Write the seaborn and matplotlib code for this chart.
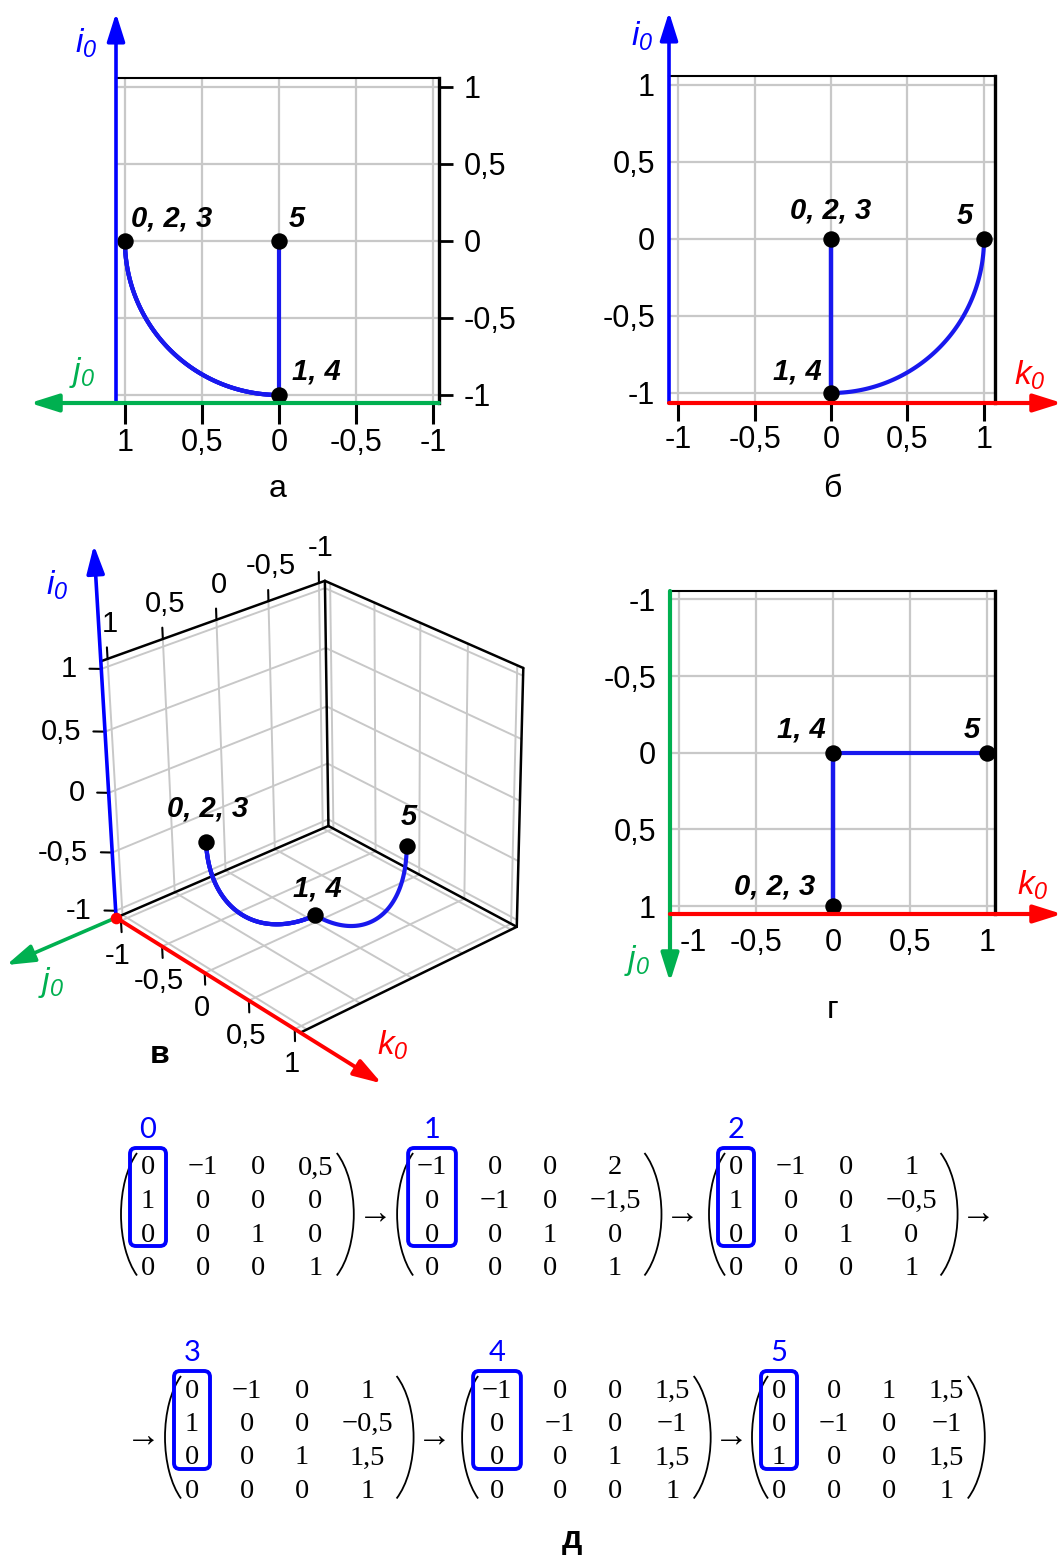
import numpy as np
import pandas as pd
import matplotlib
matplotlib.use("Agg")
import matplotlib.pyplot as plt
import seaborn as sns
from matplotlib.patches import Arc, FancyBboxPatch
from mpl_toolkits.mplot3d import proj3d

# ---------------------------------------------------------------- data
# Homogeneous transforms of the tool frame after each step (rows i, j, k, 1)
step_names = ["0", "1", "2", "3", "4", "5"]
matrix_0 = [[0, -1, 0, 0.5], [1, 0, 0, 0], [0, 0, 1, 0], [0, 0, 0, 1]]
matrix_1 = [[-1, 0, 0, 2], [0, -1, 0, -1.5], [0, 0, 1, 0], [0, 0, 0, 1]]
matrix_2 = [[0, -1, 0, 1], [1, 0, 0, -0.5], [0, 0, 1, 0], [0, 0, 0, 1]]
matrix_3 = [[0, -1, 0, 1], [1, 0, 0, -0.5], [0, 0, 1, 1.5], [0, 0, 0, 1]]
matrix_4 = [[-1, 0, 0, 1.5], [0, -1, 0, -1], [0, 0, 1, 1.5], [0, 0, 0, 1]]
matrix_5 = [[0, 0, 1, 1.5], [0, -1, 0, -1], [1, 0, 0, 1.5], [0, 0, 0, 1]]
step_matrices = [matrix_0, matrix_1, matrix_2, matrix_3, matrix_4, matrix_5]

axis_ticks = [-1, -0.5, 0, 0.5, 1]
axis_tick_labels = ["-1", "-0,5", "0", "0,5", "1"]

# ---------------------------------------------------------------- style
sns.set_theme(style="whitegrid", rc={"text.color": "black", "xtick.color": "black",
                                     "ytick.color": "black", "axes.labelcolor": "black"})
plt.rcParams["font.family"] = ["Liberation Sans", "DejaVu Sans"]
plt.rcParams["mathtext.fontset"] = "custom"
plt.rcParams["mathtext.it"] = "Liberation Sans:italic"
plt.rcParams["mathtext.rm"] = "Liberation Sans:italic"
plt.rcParams["mathtext.default"] = "it"

BLUE = "#0000ff"
GREEN = "#00b050"
RED = "#ff0000"
PATH_BLUE = "#1818ee"
GRID = "#c8c8c8"
SERIF = ["Liberation Serif", "DejaVu Serif"]

W_PX, H_PX = 1063, 1555
fig = plt.figure(figsize=(W_PX / 100, H_PX / 100), dpi=100)
fig.patch.set_facecolor("white")


def fig_rect(l, t, r, b):
    return [l / W_PX, 1 - b / H_PX, (r - l) / W_PX, (b - t) / H_PX]


def fpx(x, y):
    return (x, H_PX - y)


def axis_arrow(ax, tail, tip, color, lw=2.6):
    ax.annotate(
        "", xy=fpx(*tip), xytext=fpx(*tail), xycoords="figure pixels",
        textcoords="figure pixels",
        arrowprops=dict(arrowstyle="-|>,head_length=0.95,head_width=0.3",
                        mutation_scale=18, color=color, lw=lw,
                        shrinkA=0, shrinkB=0), zorder=10)


def fig_label(x, y, s, color="black", size=24, **kw):
    fig.text(x / W_PX, 1 - y / H_PX, s, color=color, fontsize=size,
             ha="center", va="center", **kw)


# ---------------------------------------------------------------- path of the i0 axis
directions = [np.array(m, float)[:3, 0] for m in step_matrices]  # (i, j, k)


def rotation_arc(u, v, n=120):
    ang = np.arccos(np.clip(np.dot(u, v), -1.0, 1.0))
    if ang < 1e-9:
        return u[None, :]
    w = (v - np.cos(ang) * u) / np.sin(ang)
    t = np.linspace(0.0, ang, n)
    return np.outer(np.cos(t), u) + np.outer(np.sin(t), w)


rows = []
for s in range(len(directions) - 1):
    for p in rotation_arc(directions[s], directions[s + 1]):
        rows.append({"seg": s, "i": p[0], "j": p[1], "k": p[2]})
path = pd.DataFrame(rows)

groups = {}
for name, d in zip(step_names, directions):
    groups.setdefault(tuple(np.round(d, 6) + 0.0), []).append(name)
nodes = pd.DataFrame([{"i": key[0], "j": key[1], "k": key[2], "label": ", ".join(v)}
                      for key, v in groups.items()])


def plane(ax, xcol, ycol, offsets):
    ax.set_axisbelow(True)
    sns.lineplot(data=path, x=xcol, y=ycol, units="seg", estimator=None,
                 sort=False, color=PATH_BLUE, linewidth=3, ax=ax,
                 legend=False, zorder=3)
    sns.scatterplot(data=nodes, x=xcol, y=ycol, color="black", s=140,
                    linewidth=0, ax=ax, legend=False, zorder=4)
    for _, r in nodes.iterrows():
        dx, dy = offsets[r["label"]]
        ax.annotate(r["label"], (r[xcol], r[ycol]), xytext=(dx, dy),
                    textcoords="offset pixels", ha="center", va="center",
                    fontsize=21, fontweight="bold", fontstyle="italic",
                    color="black", zorder=6)
    ax.set_xticks(axis_ticks)
    ax.set_xticklabels(axis_tick_labels)
    ax.set_yticks(axis_ticks)
    ax.set_yticklabels(axis_tick_labels)
    ax.grid(True, color=GRID, linewidth=1.6)
    ax.set_xlabel("")
    ax.set_ylabel("")
    ax.set_facecolor("white")
    for side in ("left", "bottom"):
        ax.spines[side].set_visible(False)
    ax.spines["top"].set_color("black")
    ax.spines["top"].set_linewidth(1.5)
    ax.spines["right"].set_color("black")
    ax.spines["right"].set_linewidth(2.4)
    ax.tick_params(labelsize=22, colors="black", labelcolor="black")


# ---------------------------------------------------------------- а : j0 - i0
ax_a = fig.add_axes(fig_rect(116, 78, 439, 403))
plane(ax_a, "j", "i", {"0, 2, 3": (47, 22), "5": (18, 22), "1, 4": (37, 23)})
ax_a.set_xlim(1.058, -1.039)
ax_a.set_ylim(-1.052, 1.058)
ax_a.yaxis.tick_right()
ax_a.tick_params(axis="y", right=True, left=False, length=10, width=2,
                 direction="out", pad=8)
ax_a.tick_params(axis="x", bottom=True, length=15, width=2.2,
                 direction="out", pad=3)
axis_arrow(ax_a, (116, 403), (116, 13), BLUE)
axis_arrow(ax_a, (439, 403), (30, 403), GREEN, lw=3)
fig_label(86, 43, r"$i_0$", BLUE)
fig_label(82, 372, r"$j_0$", GREEN)
fig_label(278, 489, "а", size=23)

# ---------------------------------------------------------------- б : k0 - i0
ax_b = fig.add_axes(fig_rect(669, 76, 995, 403))
plane(ax_b, "k", "i", {"0, 2, 3": (0, 28), "5": (-19, 23), "1, 4": (-34, 21)})
ax_b.set_xlim(-1.059, 1.072)
ax_b.set_ylim(-1.065, 1.058)
ax_b.tick_params(axis="y", left=True, length=0, pad=10)
ax_b.tick_params(axis="x", bottom=True, length=13, width=2.2,
                 direction="out", pad=3)
axis_arrow(ax_b, (669, 403), (669, 12), BLUE)
axis_arrow(ax_b, (669, 403), (1062, 403), RED, lw=3)
fig_label(642, 36, r"$i_0$", BLUE)
fig_label(1030, 375, r"$k_0$", RED)
fig_label(832, 489, "б", size=23)

# ---------------------------------------------------------------- г : k0 - j0
ax_g = fig.add_axes(fig_rect(670, 591, 995, 914))
plane(ax_g, "k", "j", {"1, 4": (-32, 23), "5": (-15, 23), "0, 2, 3": (-59, 20)})
ax_g.set_xlim(-1.06, 1.05)
ax_g.set_ylim(1.051, -1.054)
ax_g.tick_params(axis="both", length=0)
ax_g.tick_params(axis="x", pad=10)
ax_g.tick_params(axis="y", pad=10)
ax_g.get_xticklabels()[0].set_horizontalalignment("left")
axis_arrow(ax_g, (670, 591), (670, 982), GREEN, lw=3)
axis_arrow(ax_g, (670, 914), (1062, 914), RED, lw=3)
fig_label(1033, 885, r"$k_0$", RED)
fig_label(637, 960, r"$j_0$", GREEN)
fig_label(833, 1010, "г", size=23)

# ---------------------------------------------------------------- в : 3D view (x=j0, y=k0, z=i0)
ax3 = fig.add_axes(fig_rect(41, 539, 571, 1069), projection="3d",
                   computed_zorder=False)
ax3.set_proj_type("persp", focal_length=0.9)
ax3.view_init(elev=28, azim=49.5, roll=1)
ax3.set_box_aspect((1, 1, 1), zoom=0.925)
L = 1.06
for setter in (ax3.set_xlim, ax3.set_ylim, ax3.set_zlim):
    try:
        setter(-L, L, view_margin=0)
    except TypeError:
        setter(-L, L)
ax3.set_axis_off()

# pane grids
for t in axis_ticks:
    kw = dict(color=GRID, lw=1.4, zorder=1)
    ax3.plot([t, t], [-L, -L], [-L, L], **kw)
    ax3.plot([-L, L], [-L, -L], [t, t], **kw)
    ax3.plot([-L, -L], [t, t], [-L, L], **kw)
    ax3.plot([-L, -L], [-L, L], [t, t], **kw)
    ax3.plot([t, t], [-L, L], [-L, -L], **kw)
    ax3.plot([-L, L], [t, t], [-L, -L], **kw)

# box edges
edges = [
    ([L, -L], [-L, -L], [L, L]),
    ([-L, -L], [-L, -L], [L, -L]),
    ([-L, -L], [-L, L], [L, L]),
    ([-L, -L], [L, L], [L, -L]),
    ([-L, L], [-L, -L], [-L, -L]),
    ([-L, -L], [-L, L], [-L, -L]),
    ([-L, L], [L, L], [-L, -L]),
]
for ex, ey, ez in edges:
    ax3.plot(ex, ey, ez, color="black", lw=1.8, zorder=2)

# ticks
for t in axis_ticks:
    ax3.plot([L, L + 0.06], [-L, -L - 0.06], [t, t], color="black", lw=1.5, zorder=2)
    ax3.plot([t, t], [-L, -L], [L, L + 0.09], color="black", lw=1.5, zorder=2)
    ax3.plot([L, L], [t, t], [-L, -L - 0.1], color="black", lw=1.5, zorder=2)

# path and nodes
for _, seg in path.groupby("seg"):
    ax3.plot(seg["j"], seg["k"], seg["i"], color=PATH_BLUE, lw=3, zorder=5)
ax3.scatter(nodes["j"], nodes["k"], nodes["i"], color="black", s=140,
            depthshade=False, linewidths=0, zorder=6)

M3 = ax3.get_proj()


def p2(x, y, z):
    xs, ys, _ = proj3d.proj_transform(np.array([x], float), np.array([y], float),
                                      np.array([z], float), M3)
    return float(xs[0]), float(ys[0])


origin = p2(L, -L, -L)
i_tip, j_tip, k_tip = (L, -L, 1.95), (2.06, -L, -L), (L, 1.9, -L)
for tip, color, lw in ((i_tip, BLUE, 2.6), (j_tip, GREEN, 2.6), (k_tip, RED, 2.8)):
    ax3.annotate("", xy=p2(*tip), xytext=origin, xycoords="data",
                 arrowprops=dict(arrowstyle="-|>,head_length=0.95,head_width=0.3",
                                 mutation_scale=18, color=color, lw=lw,
                                 shrinkA=0, shrinkB=0),
                 annotation_clip=False, zorder=8)
ax3.scatter([L], [-L], [-L], color=RED, s=70, depthshade=False, linewidths=0, zorder=9)

lab_kw = dict(textcoords="offset pixels", fontsize=21, color="black",
              annotation_clip=False, zorder=9)
for t, s in zip(axis_ticks, axis_tick_labels):
    ax3.annotate(s, p2(L, -L, t), xytext=(-24, 0), ha="right", va="center", **lab_kw)
    ax3.annotate(s, p2(t, -L, L), xytext=(2, 35), ha="center", va="center", **lab_kw)
    ax3.annotate(s, p2(L, t, -L), xytext=(-3, -35), ha="center", va="center", **lab_kw)

for (tip, s, color, off) in ((i_tip, r"$i_0$", BLUE, (-37, -40)),
                             (j_tip, r"$j_0$", GREEN, (45, -17)),
                             (k_tip, r"$k_0$", RED, (11, 38))):
    ax3.annotate(s, p2(*tip), xytext=off, textcoords="offset pixels", color=color,
                 fontsize=24, ha="center", va="center", annotation_clip=False, zorder=9)

node_off3 = {"0, 2, 3": (2, 33), "5": (2, 29), "1, 4": (2, 27)}
for _, r in nodes.iterrows():
    ax3.annotate(r["label"], p2(r["j"], r["k"], r["i"]), xytext=node_off3[r["label"]],
                 textcoords="offset pixels", ha="center", va="center", fontsize=21,
                 fontweight="bold", fontstyle="italic", color="black",
                 annotation_clip=False, zorder=9)
fig_label(160, 1055, "в", size=23, fontweight="bold")

# ---------------------------------------------------------------- д : matrices
axm = fig.add_axes(fig_rect(0, 1090, 1063, 1555))
axm.set_xlim(0, W_PX)
axm.set_ylim(H_PX, 1090)
axm.axis("off")

EM = 28.0
CHAR_W = {"\u2212": 0.564, ",": 0.25}


def text_w(s):
    return sum(CHAR_W.get(ch, 0.5) for ch in s) * EM


def fmt(v):
    s = f"{abs(v):g}".replace(".", ",")
    return "\u2212" + s if v < 0 else s


col0_x = [148, 432, 736, 192, 497, 779]
row0_y = [1165, 1165, 1165, 1388, 1388, 1388]
ROW_PITCH = 33.5
COL_GAP = 33


def paren(x_end, x_bulge, y_top, y_bot):
    h = (y_bot - y_top) / 2.0
    d = abs(x_end - x_bulge)
    eta = np.deg2rad(55)
    b = h / np.sin(eta)
    a = d / (1 - np.cos(eta))
    th = np.rad2deg(np.arctan2(b * np.sin(eta), a * np.cos(eta)))
    yc = (y_top + y_bot) / 2.0
    if x_bulge < x_end:
        arc = Arc((x_bulge + a, yc), 2 * a, 2 * b, theta1=180 - th, theta2=180 + th,
                  color="black", lw=1.3)
    else:
        arc = Arc((x_bulge - a, yc), 2 * a, 2 * b, theta1=-th, theta2=th,
                  color="black", lw=1.3)
    axm.add_patch(arc)


arrow_kw = dict(fontsize=25, family=SERIF, ha="center", va="center", color="black")
for n, (m, x0, y0) in enumerate(zip(step_matrices, col0_x, row0_y)):
    strs = [[fmt(v) for v in row] for row in m]
    widths = [max(text_w(strs[r][c]) for r in range(4)) for c in range(4)]
    xs = [x0]
    for c in range(1, 4):
        xs.append(xs[-1] + widths[c - 1] / 2 + widths[c] / 2 + COL_GAP)
    ys = [y0 + r * ROW_PITCH for r in range(4)]
    for r in range(4):
        for c in range(4):
            axm.text(xs[c], ys[r] + 9.5, strs[r][c], ha="center", va="baseline",
                     fontsize=20.5, family=SERIF, color="black")
    left = xs[0] - widths[0] / 2 - 4
    right = xs[3] + widths[3] / 2 + 4
    paren(left, left - 16, ys[0] - 12, ys[3] + 10)
    paren(right, right + 17, ys[0] - 12, ys[3] + 10)
    bw = max(widths[0] + 18, 36)
    axm.add_patch(FancyBboxPatch((xs[0] - bw / 2, ys[0] - 17), bw, ys[2] - ys[0] + 31,
                                 boxstyle="round,pad=0,rounding_size=6",
                                 fc="none", ec=BLUE, lw=2.8))
    axm.text(xs[0], ys[0] - 35, step_names[n], color=BLUE, fontsize=21,
             family=["Lato", "DejaVu Sans"], ha="center", va="center")
    ymid = (ys[1] + ys[2]) / 2
    if n != 5:
        axm.text(right + 17 + 21, ymid, "\u2192", **arrow_kw)
    if n == 3:
        axm.text(left - 16 - 22, ymid, "\u2192", **arrow_kw)

fig_label(572, 1540, "д", size=23, fontweight="bold")

fig.savefig("out.png", dpi=100)
